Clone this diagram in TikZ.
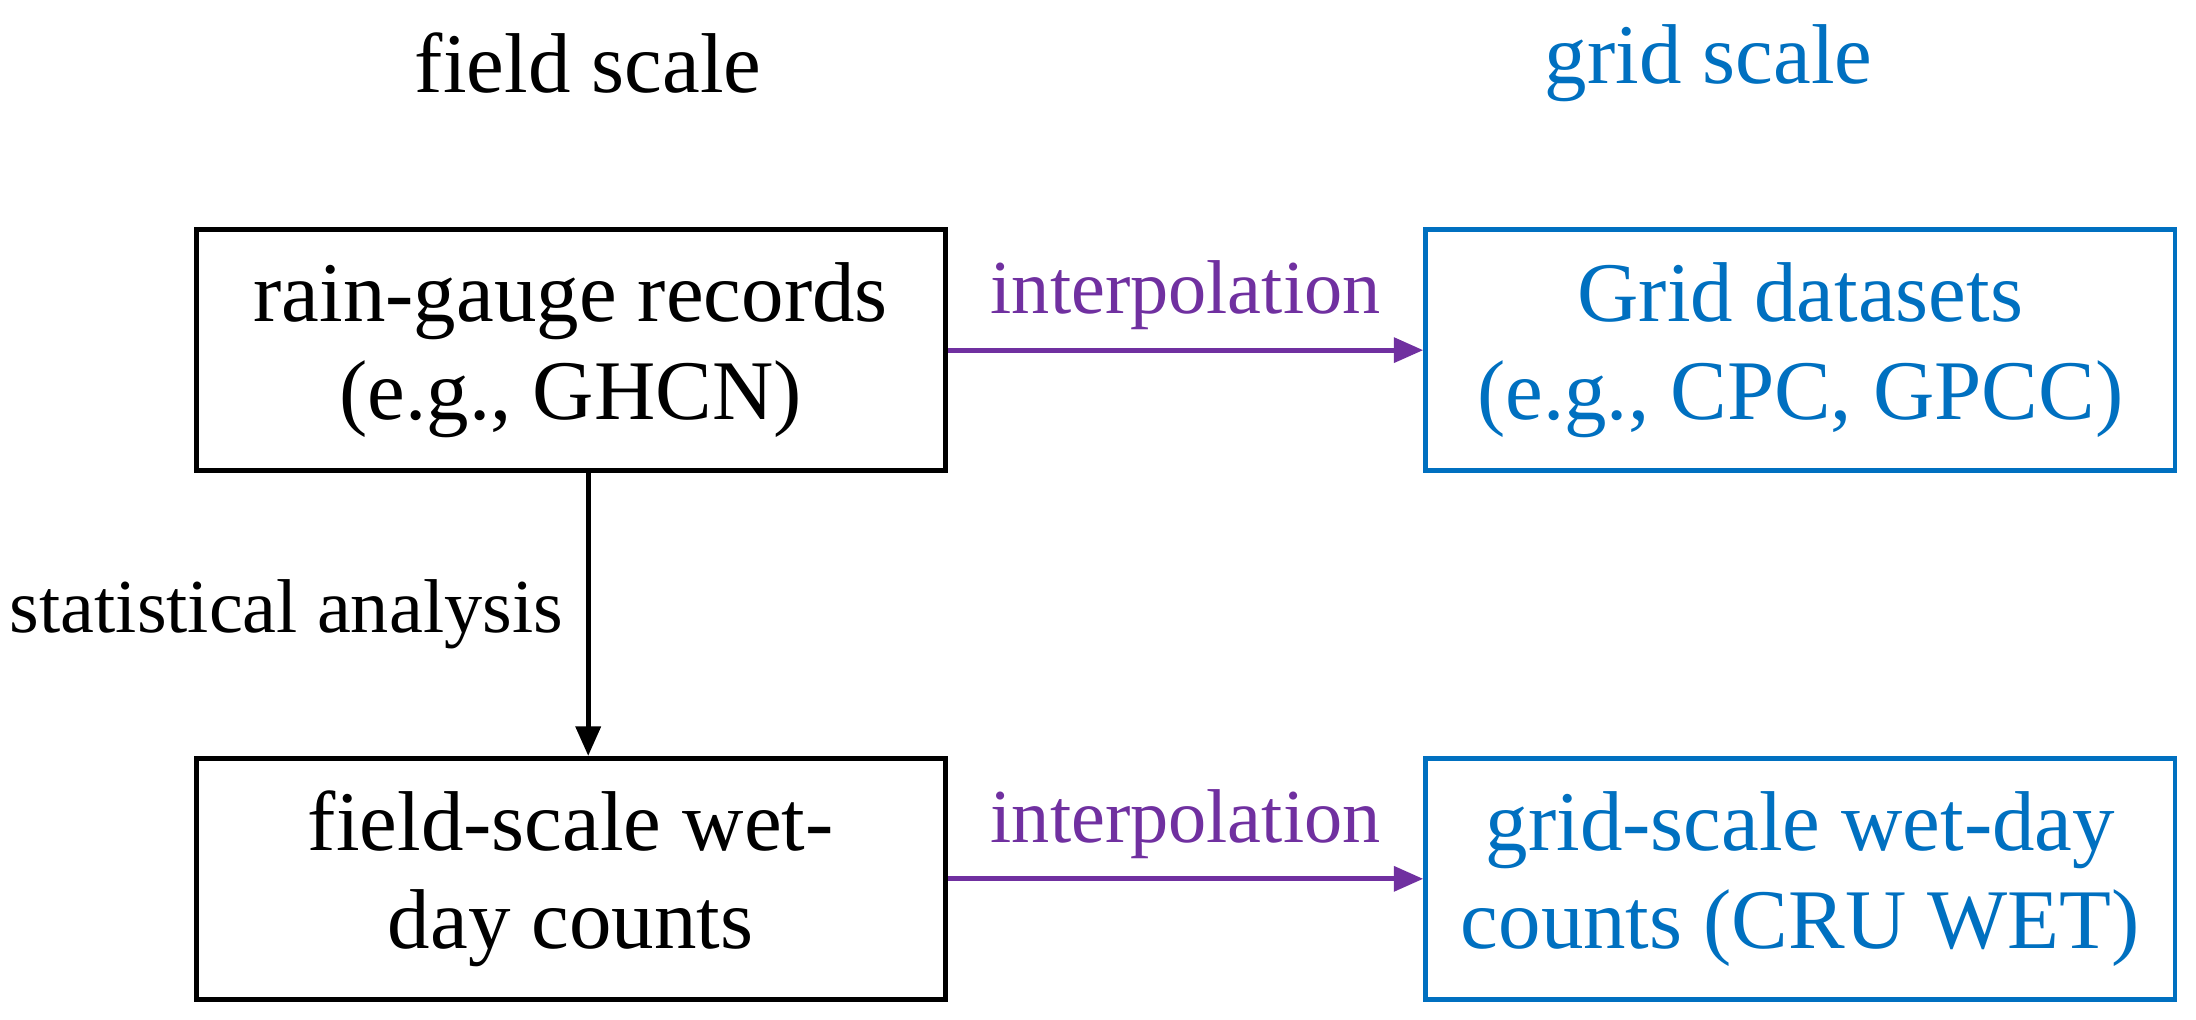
\documentclass[tikz,border=0pt]{standalone}
\usepackage{fontspec}
\setmainfont{Liberation Serif}
\usetikzlibrary{arrows.meta}
\definecolor{bl}{RGB}{0,112,192}
\definecolor{pu}{RGB}{112,48,160}
\begin{document}
\begin{tikzpicture}[x=0.02cm,y=-0.02cm,
 box/.style={draw,line width=2pt,minimum width=535*0.02cm,minimum height=172*0.02cm,align=center,font=\fontsize{34.5}{40}\selectfont,inner sep=0pt},
 lab/.style={font=\fontsize{34.5}{40}\selectfont},
 slab/.style={font=\fontsize{31}{36}\selectfont},
 arr/.style={line width=2pt,-{Triangle[length=12pt,width=10pt]}}]
\useasboundingbox (0,0) rectangle (1568,728);
\node[lab] (t1) at (420,45) {field scale};
\node[lab,text=bl] (t2) at (1220,45) {grid scale};
\node[box] (a) at (407.5,250) {rain-gauge records\\(e.g., GHCN)};
\node[box,draw=bl,text=bl] (b) at (1285.5,250) {Grid datasets\\(e.g., CPC, GPCC)};
\node[box] (c) at (407.5,627.5) {field-scale wet-\\day counts};
\node[box,draw=bl,text=bl] (d) at (1285.5,627.5) {grid-scale wet-day\\counts (CRU WET)};
\draw[arr,pu] (a) -- node[slab,above=4pt,text=pu] (l1) {interpolation} (b);
\draw[arr,pu] (c) -- node[slab,above=4pt,text=pu] (l2) {interpolation} (d);
\draw[arr] (a.south -| 420,0) -- node[slab,left=6pt] (l3) {statistical analysis} (c.north -| 420,0);
\end{tikzpicture}
\end{document}
